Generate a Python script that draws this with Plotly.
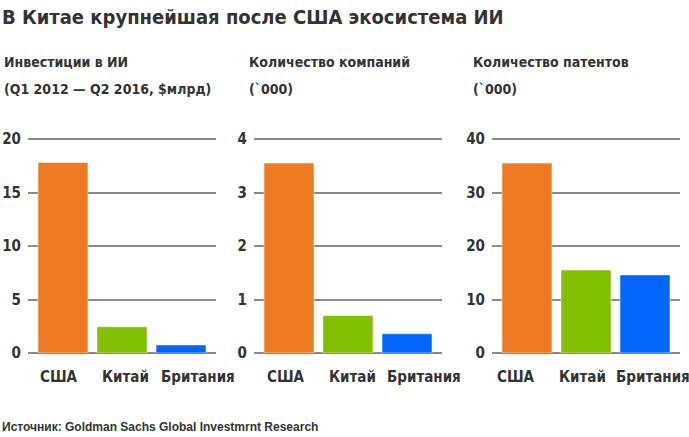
import plotly.graph_objects as go

W, H = 689, 437

countries = ["США", "Китай", "Британия"]
colors = ["#EE7A22", "#80C000", "#0066FF"]

investments = [17.8, 2.45, 0.75]      # $ млрд
companies = [3.55, 0.7, 0.36]         # тыс.
patents = [35.5, 15.5, 14.6]          # тыс.

panel_values = [investments, companies, patents]
panel_ticks = [[0, 5, 10, 15, 20], [0, 1, 2, 3, 4], [0, 10, 20, 30, 40]]
panel_titles = [
    ("Инвестиции в ИИ", "(Q1 2012 — Q2 2016, $млрд)"),
    ("Количество компаний", "(`000)"),
    ("Количество патентов", "(`000)"),
]

FONT = "Liberation Sans Narrow, DejaVu Sans Condensed, Arial Narrow, sans-serif"
TXT = "#333333"
GRID = "#8a8a8a"

# pixel boxes of the three plot areas (left, right)
px_x = [(28, 216), (254, 442), (492, 680)]
y_zero, y_top = 353, 139
title_x = [2, 247, 471]
# category labels in the original are hand-placed, not centred under bars
label_shift = [(-4, 3, 17), (-3, 4, 17), (-11, -4, 8)]

fig = go.Figure()
annotations = []

for i, vals in enumerate(panel_values):
    n = "" if i == 0 else str(i + 1)
    top = panel_ticks[i][-1]
    fig.add_trace(go.Bar(
        x=countries, y=vals,
        marker=dict(color=colors, line=dict(color="rgba(255,255,255,0.5)", width=1)),
        xaxis="x" + n, yaxis="y" + n,
        showlegend=False, hoverinfo="x+y",
    ))
    l, r = px_x[i]
    fig.layout["xaxis" + n] = dict(
        domain=[l / W, r / W],
        range=[-0.593, 2.593],
        type="category", automargin=False,
        showgrid=False, showline=False, zeroline=False,
        showticklabels=False, ticks="",
        anchor="y" + n, fixedrange=True,
    )
    fig.layout["yaxis" + n] = dict(
        domain=[(H - y_zero) / H, (H - y_top + 2) / H],
        range=[0, top * (y_zero - y_top + 2) / (y_zero - y_top)],
        tickvals=panel_ticks[i], automargin=False,
        showgrid=True, gridcolor=GRID, gridwidth=2,
        zeroline=True, zerolinecolor=GRID, zerolinewidth=2,
        showline=False, ticks="", ticklabelstandoff=6,
        tickfont=dict(family=FONT, size=15, color=TXT, weight="bold"),
        anchor="x" + n, fixedrange=True,
    )
    for c, dx in zip(countries, label_shift[i]):
        annotations.append(dict(
            text=c, x=c, xref="x" + n, y=1 - 377 / H, yref="paper",
            xshift=dx, xanchor="center", yanchor="middle", showarrow=False,
            font=dict(family=FONT, size=15, color=TXT, weight="bold"),
        ))

annotations.append(dict(
    text="В Китае крупнейшая после США экосистема ИИ",
    x=0, y=1 - 17 / H, xref="paper", yref="paper",
    xanchor="left", yanchor="middle", showarrow=False,
    font=dict(family=FONT, size=20, color=TXT, weight="bold"),
))
for i, (t1, t2) in enumerate(panel_titles):
    for txt, yy in ((t1, 62), (t2, 89)):
        annotations.append(dict(
            text=txt, x=title_x[i] / W, y=1 - yy / H, xref="paper", yref="paper",
            xanchor="left", yanchor="middle", showarrow=False,
            font=dict(family=FONT, size=14, color=TXT, weight="bold"),
        ))
annotations.append(dict(
    text="Источник: Goldman Sachs Global Investmrnt Research",
    x=0, y=1 - 427 / H, xref="paper", yref="paper",
    xanchor="left", yanchor="middle", showarrow=False,
    font=dict(family="Liberation Sans, Arial, sans-serif", size=12, color=TXT, weight="bold"),
))

fig.update_layout(
    width=W, height=H,
    margin=dict(l=0, r=0, t=0, b=0),
    paper_bgcolor="white", plot_bgcolor="white",
    bargap=0.153,
    annotations=annotations,
)

fig.write_html(
    "out.html",
    config={"displayModeBar": False},
    post_script="document.body.style.margin='0';",
)
